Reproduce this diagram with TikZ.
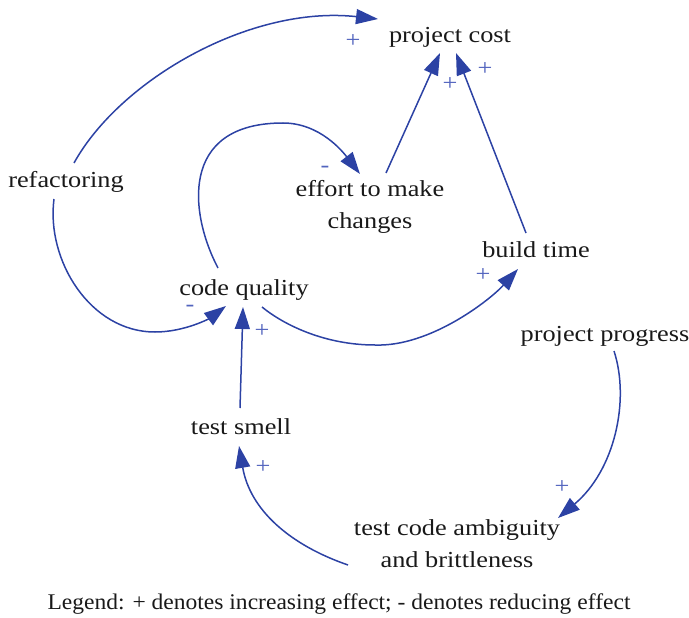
\documentclass[tikz,border=0pt]{standalone}
\usepackage{fontspec}
\setmainfont{Liberation Serif}
\newfontfamily\labfont[FakeStretch=1.148]{Liberation Serif}
\newfontfamily\legfont[FakeStretch=1.05]{Liberation Serif}
\usetikzlibrary{arrows.meta}
\definecolor{linkblue}{RGB}{44,66,164}
\definecolor{signblue}{RGB}{82,100,190}
\definecolor{inkblack}{RGB}{25,25,25}
\tikzset{
  varlabel/.style={anchor=base, inner sep=0pt, align=center, text=inkblack,
    font=\labfont\fontsize{23}{31.5}\selectfont},
  polarity/.style={inner sep=0pt, text=signblue,
    font=\labfont\fontsize{23}{26}\selectfont},
  link/.style={draw=linkblue, line width=1.5bp,
    -{Triangle[length=22bp,width=15bp]}, fill=none},
}
\begin{document}
\begin{tikzpicture}[x=1bp,y=-1bp]
\useasboundingbox (0,0) rectangle (689,618);

% variables (two-line labels are placed by the baseline of their last line)
\node[varlabel] (cost)     at (450,43)  {project cost};
\node[varlabel] (refac)    at (66,188)  {refactoring};
\node[varlabel] (effort)   at (370,228) {effort to make\\changes};
\node[varlabel] (build)    at (536,257) {build time};
\node[varlabel, text depth=0pt] (quality) at (244,295) {code quality};
\node[varlabel] (progress) at (605,341) {project progress};
\node[varlabel] (smell)    at (241,434) {test smell};
\node[varlabel] (ambig)    at (457,567) {test code ambiguity\\and brittleness};
\node[anchor=base, inner sep=0pt, text=inkblack,
  font=\legfont\fontsize{22.5}{26}\selectfont] (legend) at (339,609)
  {Legend: + denotes increasing effect; - denotes reducing effect};

% causal links
\draw[link] ([shift={(8,-25)}]refac.base)
  .. controls (120,80) and (250,5) .. ([shift={(-72,-24)}]cost.base);
\draw[link] ([shift={(16,-55)}]effort.base) -- ([shift={(-10,10)}]cost.base);
\draw[link] ([shift={(-10,-24)}]build.base) -- ([shift={(6,10)}]cost.base);
\draw[link] ([shift={(-26,-27)}]quality.base)
  .. controls (190,215) and (178,123) .. (283,123)
  .. controls (320,123) and (343,152) .. ([shift={(-10,-54)}]effort.base);
\draw[link] ([shift={(-12,11)}]refac.base)
  .. controls (46,260) and (90,332) .. (155,332)
  .. controls (185,332) and (210,318) .. ([shift={(-18,11)}]quality.base);
\draw[link] ([shift={(18,12)}]quality.base)
  .. controls (284,325) and (325,345) .. (375,345)
  .. controls (430,347) and (490,300) .. ([shift={(-18,12)}]build.base);
\draw[link] ([shift={(-1,-26)}]smell.base) -- ([shift={(-1,12)}]quality.base);
\draw[link] ([shift={(9,10)}]progress.base)
  .. controls (630,400) and (615,470) .. ([shift={(101,-49)}]ambig.base);
\draw[link] ([shift={(-109,-2)}]ambig.base)
  .. controls (290,545) and (250,510) .. ([shift={(-2,12)}]smell.base);

% link polarities
\node[polarity] (p1) at (353,41)  {+};
\node[polarity] (p2) at (450,84)  {+};
\node[polarity] (p3) at (485,69)  {+};
\node[polarity] (p4) at (325,169) {-};
\node[polarity] (p5) at (190,308) {-};
\node[polarity] (p6) at (262,331) {+};
\node[polarity] (p7) at (483,275) {+};
\node[polarity] (p8) at (562,487) {+};
\node[polarity] (p9) at (263,467) {+};
\end{tikzpicture}
\end{document}
